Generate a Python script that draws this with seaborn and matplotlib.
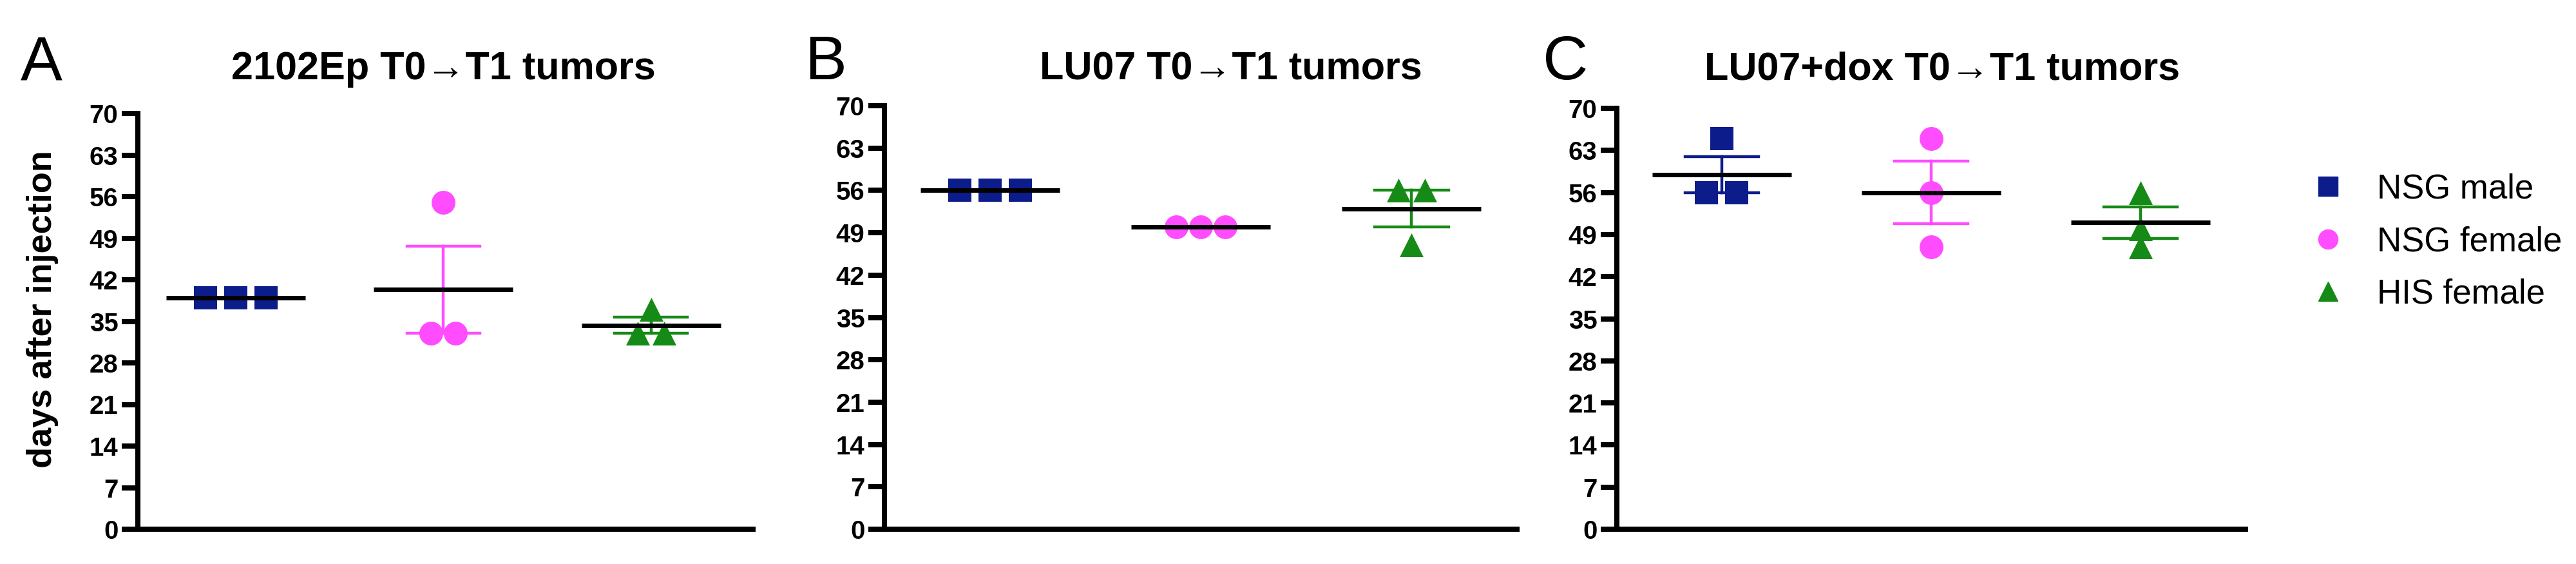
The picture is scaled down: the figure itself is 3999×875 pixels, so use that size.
import numpy as np
import pandas as pd
import matplotlib
matplotlib.use("Agg")
import matplotlib.pyplot as plt
from matplotlib.lines import Line2D
import seaborn as sns

# ---------------- data ----------------
groups = ["NSG male", "NSG female", "HIS female"]
colors = ["#0c1c8a", "#ff4cff", "#168a16"]
markers = ["s", "o", "^"]

titles = ["2102Ep T0\u2192T1 tumors", "LU07 T0\u2192T1 tumors", "LU07+dox T0\u2192T1 tumors"]
panel_letters = ["A", "B", "C"]

a_nsg_male = [39, 39, 39]
a_nsg_female = [55, 33, 33]
a_his_female = [37, 33, 33]

b_nsg_male = [56, 56, 56]
b_nsg_female = [50, 50, 50]
b_his_female = [56, 56, 47]

c_nsg_male = [65, 56, 56]
c_nsg_female = [65, 56, 47]
c_his_female = [56, 50, 47]

yticks = list(range(0, 71, 7))
ylabel = "days after injection"

panels = [
    [a_nsg_male, a_nsg_female, a_his_female],
    [b_nsg_male, b_nsg_female, b_his_female],
    [c_nsg_male, c_nsg_female, c_his_female],
]

# ---------------- style ----------------
plt.rcParams["font.family"] = ["Liberation Sans", "DejaVu Sans"]

W, H = 3999, 875
fig = plt.figure(figsize=(W / 100, H / 100), dpi=100)

# axes boxes in pixels: (x0, ytop, x1, ybottom)
boxes = [(214, 176, 1169, 821), (1373, 164, 2355, 821), (2510, 168, 3486, 821)]
xlims = [(-0.47, 2.49), (-0.5, 2.5), (-0.5, 2.5)]
title_cx = [688, 1911, 3015]
letter_x = [32, 1250, 2395]
baseline_y = 123

msize = 26.6                 # marker size in points (~37 px)
tie_step_px = [47, 38, 41]   # side-by-side spacing of tied values


def tie_offsets(values, step):
    """Spread identical values symmetrically around the group centre."""
    values = np.asarray(values, float)
    off = np.zeros(len(values))
    for v in np.unique(values):
        idx = np.where(values == v)[0]
        k = len(idx)
        off[idx] = (np.arange(k) - (k - 1) / 2) * step
    return off


for p, (vals, box, xl) in enumerate(zip(panels, boxes, xlims)):
    x0, yt, x1, yb = box
    ax = fig.add_axes([x0 / W, (H - yb) / H, (x1 - x0) / W, (yb - yt) / H])
    px_per_unit = (x1 - x0) / (xl[1] - xl[0])

    df = pd.DataFrame({
        "group": np.repeat(groups, [len(v) for v in vals]),
        "gidx": np.repeat(np.arange(len(groups)), [len(v) for v in vals]).astype(float),
        "days": np.concatenate([np.asarray(v, float) for v in vals]),
    })

    for gi, (g, c, m) in enumerate(zip(groups, colors, markers)):
        v = np.asarray(vals[gi], float)
        xpos = gi + tie_offsets(v, tie_step_px[gi] / px_per_unit)
        sns.scatterplot(x=xpos, y=v, marker=m, color=c, s=msize ** 2,
                        linewidth=0, ax=ax, zorder=2, legend=False)

    sns.pointplot(data=df, x="gidx", y="days", hue="group", hue_order=groups,
                  palette=colors, native_scale=True, errorbar="se", capsize=0.35,
                  linestyle="none", marker="o", markersize=0,
                  err_kws={"linewidth": 3.2, "zorder": 3}, dodge=False,
                  legend=False, ax=ax)

    sns.pointplot(data=df, x="gidx", y="days", native_scale=True, errorbar=None,
                  color="black", marker="_", markersize=155, markeredgewidth=5,
                  linestyle="none", ax=ax, zorder=4)

    ax.set_xlim(*xl)
    ax.set_ylim(0, 70)
    ax.set_xticks([])
    ax.set_xlabel("")
    ax.set_ylabel("")
    ax.set_yticks(yticks)
    ax.set_yticklabels([str(t) for t in yticks], fontweight="bold", fontsize=29)
    ax.tick_params(axis="y", length=18, width=5.8, pad=4, direction="out", colors="black")
    for s in ["top", "right"]:
        ax.spines[s].set_visible(False)
    for s in ["left", "bottom"]:
        ax.spines[s].set_linewidth(5.8)
        ax.spines[s].set_color("black")
        ax.spines[s].set_capstyle("projecting")
    ax.patch.set_alpha(0)

    fig.text(title_cx[p] / W, 1 - baseline_y / H, titles[p], ha="center",
             va="baseline", fontsize=44, fontweight="bold")
    fig.text(letter_x[p] / W, 1 - baseline_y / H, panel_letters[p], ha="left",
             va="baseline", fontsize=70)

fig.text(66 / W, 1 - 480 / H, ylabel, rotation=90, ha="center", va="center",
         fontsize=39, fontweight="bold")

handles = [Line2D([], [], marker=m, color=c, linestyle="none", markersize=21.6)
           for m, c in zip(markers, colors)]
fig.legend(handles, groups, loc="center left",
           bbox_to_anchor=(3588 / W, 1 - 375 / H), frameon=False,
           prop={"size": 38}, handlelength=1.0, handletextpad=0.93,
           borderpad=0, borderaxespad=0, labelspacing=0.6)

fig.savefig("out.png", dpi=100, facecolor="white")
